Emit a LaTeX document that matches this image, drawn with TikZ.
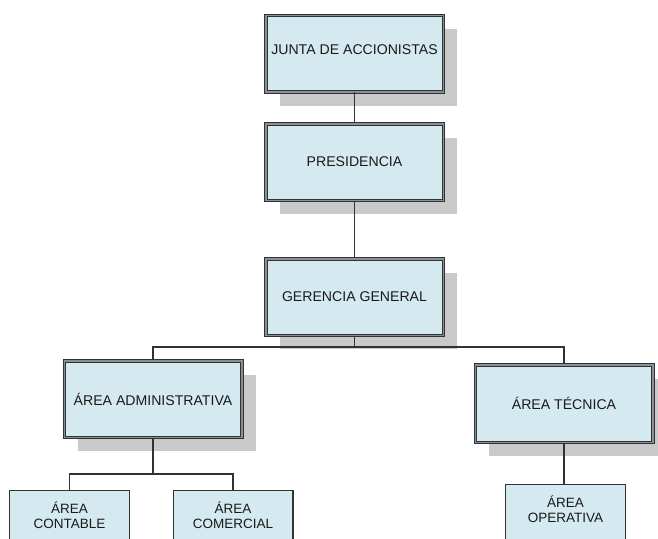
\documentclass[tikz,border=0pt]{standalone}
\usepackage{fontspec}
\setmainfont{Liberation Sans}
\usetikzlibrary{shadows}
\definecolor{boxfill}{RGB}{213,234,240}
\definecolor{shadowgray}{RGB}{201,201,201}
\definecolor{edge}{RGB}{50,50,50}
\definecolor{gapgray}{RGB}{135,145,150}
\definecolor{txt}{RGB}{25,25,25}
\tikzset{
  mainbox/.style={draw=edge, line width=1pt, double=gapgray, double distance=1.5pt,
    fill=boxfill, minimum width=177.5pt, minimum height=76.5pt, inner sep=0pt,
    text=txt, font=\fontsize{14.1}{16}\selectfont,
    drop shadow={shadow xshift=14pt, shadow yshift=-14pt, fill=shadowgray, opacity=1}},
  smallbox/.style={draw=edge, line width=1.2pt, fill=boxfill, minimum width=119.8pt,
    minimum height=80pt, anchor=north, inner sep=0pt},
  lbl/.style={anchor=center, yshift=-25.5pt, align=center, text=txt,
    font=\fontsize{13.5}{15}\selectfont, inner sep=0pt},
  conn/.style={draw=edge, line width=1.2pt}
}
\begin{document}
\begin{tikzpicture}[x=1pt, y=-1pt]
\path[use as bounding box] (0,0) rectangle (658,538);
\clip (0,0) rectangle (658,538);
\node[mainbox] (junta) at (354.5,53.5) {\raisebox{7pt}{JUNTA DE ACCIONISTAS}};
\node[mainbox] (pres) at (354.5,162) {PRESIDENCIA};
\node[mainbox] (ger) at (354.5,297) {GERENCIA GENERAL};
\node[mainbox] (admin) at (153,399) {ÁREA ADMINISTRATIVA};
\node[mainbox, minimum height=77.5pt] (tec) at (564,403.5) {ÁREA TÉCNICA};
\node[smallbox, label={[lbl]north:{ÁREA\\CONTABLE}}] (cont) at (69.5,490) {};
\node[smallbox, label={[lbl]north:{ÁREA\\COMERCIAL}}] (com) at (233,490) {};
\node[smallbox, label={[lbl]north:{ÁREA\\OPERATIVA}}] (oper) at (565.5,484) {};
\coordinate (split) at (354.5,347);
\coordinate (split2) at (153,474);
\draw[conn] (junta.south) -- (pres.north);
\draw[conn] (pres.south) -- (ger.north);
\draw[conn] (ger.south) -- (split);
\draw[conn] (admin.north) |- (split) -| (tec.north);
\draw[conn] (admin.south) -- (split2);
\draw[conn] (cont.north) |- (split2) -| (com.north);
\draw[conn] (tec.south) -- (tec.south |- oper.north);
\end{tikzpicture}
\end{document}
